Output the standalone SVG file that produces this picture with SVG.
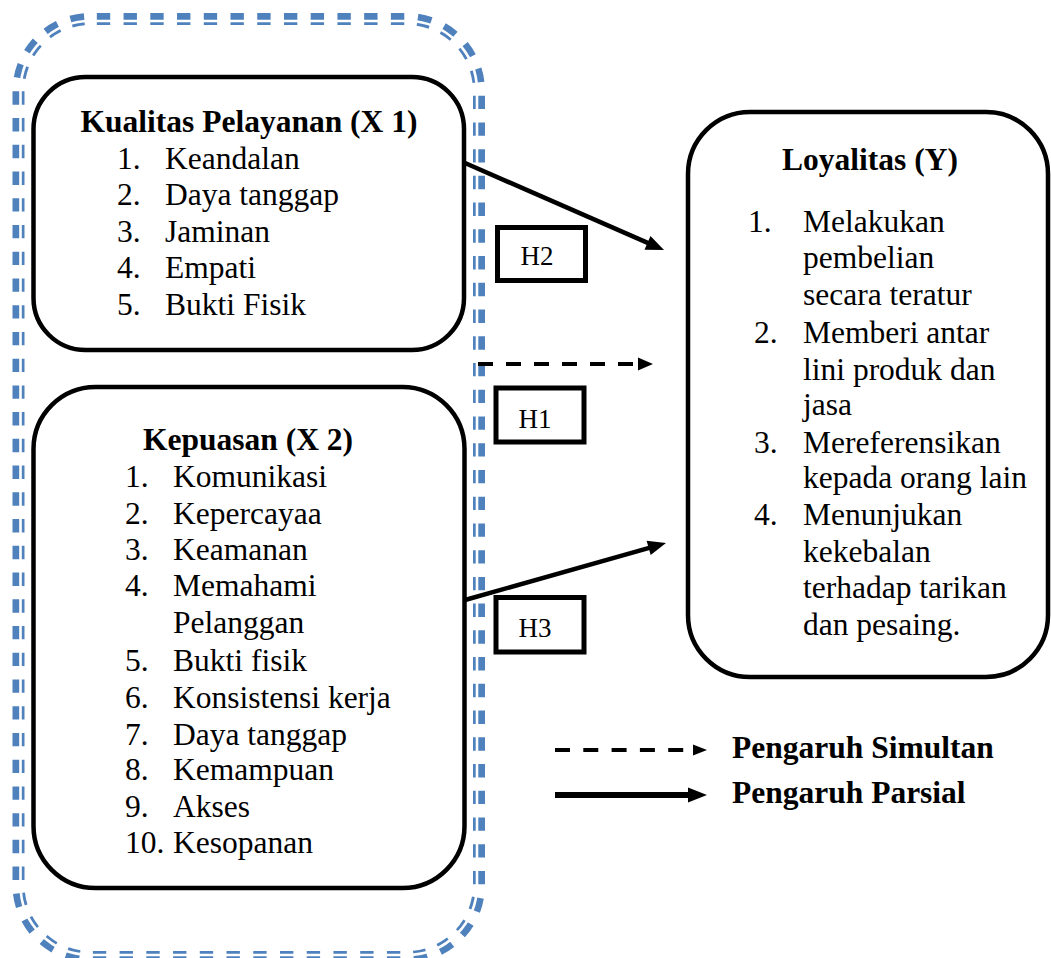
<svg xmlns="http://www.w3.org/2000/svg" width="1051" height="958" viewBox="0 0 1051 958">
<style>
.box{fill:none;stroke:#000;stroke-width:4.5}
.hbox{fill:none;stroke:#000;stroke-width:5}
.t{font-family:"Liberation Serif","Times New Roman",serif;font-size:31.5px;fill:#000}
.b{font-weight:bold}
.h{font-family:"Liberation Serif","Times New Roman",serif;font-size:27px;fill:#000}
.solid{stroke:#000;stroke-width:4.5;fill:none}
.dash{stroke:#000;stroke-width:4;fill:none;stroke-dasharray:15 13}
.head{fill:#000}
</style>
<defs>
<mask id="gap" maskUnits="userSpaceOnUse" x="0" y="0" width="1051" height="958">
<rect x="0" y="0" width="1051" height="958" fill="#fff"/>
<rect x="20.5" y="21" width="456.5" height="934" rx="70" fill="none" stroke="#000" stroke-width="2.6"/>
</mask>
</defs>
<rect width="1051" height="958" fill="#fff"/>
<g id="group-border" mask="url(#gap)">
<rect x="18.5" y="19" width="460.5" height="938" rx="72" fill="none" stroke="#4F81BD" stroke-width="12" stroke-dasharray="13.367 13.367" stroke-dashoffset="20.4"/>
</g>
<g id="connectors">
<line class="solid" x1="465" y1="163" x2="650" y2="243.9"/>
<polygon class="head" points="664,250 644.5,249.7 650.5,235.9"/>
<line class="solid" x1="465" y1="600" x2="651" y2="547.3"/>
<polygon class="head" points="666,543 650.7,555.1 646.6,540.7"/>
<line class="dash" x1="478" y1="364" x2="636" y2="364"/>
<polygon class="head" points="653,364 638,357.5 638,370.5"/>
</g>
<g id="node-x1">
<rect class="box" x="33.5" y="77" width="430.5" height="273" rx="52"/>
<text class="t b" x="249" y="132" text-anchor="middle">Kualitas Pelayanan (X 1)</text>
<text class="t" x="117" y="169">1.</text><text class="t" x="165" y="169">Keandalan</text>
<text class="t" x="117" y="205">2.</text><text class="t" x="165" y="205">Daya tanggap</text>
<text class="t" x="117" y="242">3.</text><text class="t" x="165" y="242">Jaminan</text>
<text class="t" x="117" y="278">4.</text><text class="t" x="165" y="278">Empati</text>
<text class="t" x="117" y="315">5.</text><text class="t" x="165" y="315">Bukti Fisik</text>
</g>
<g id="node-x2">
<rect class="box" x="33.5" y="387" width="431" height="501" rx="62"/>
<text class="t b" x="248" y="450" text-anchor="middle">Kepuasan (X 2)</text>
<text class="t" x="125" y="487">1.</text><text class="t" x="173" y="487">Komunikasi</text>
<text class="t" x="125" y="524">2.</text><text class="t" x="173" y="524">Kepercayaa</text>
<text class="t" x="125" y="560">3.</text><text class="t" x="173" y="560">Keamanan</text>
<text class="t" x="125" y="596">4.</text><text class="t" x="173" y="596">Memahami</text>
<text class="t" x="173" y="633">Pelanggan</text>
<text class="t" x="125" y="671">5.</text><text class="t" x="173" y="671">Bukti fisik</text>
<text class="t" x="125" y="708">6.</text><text class="t" x="173" y="708">Konsistensi kerja</text>
<text class="t" x="125" y="745">7.</text><text class="t" x="173" y="745">Daya tanggap</text>
<text class="t" x="125" y="780">8.</text><text class="t" x="173" y="780">Kemampuan</text>
<text class="t" x="125" y="817">9.</text><text class="t" x="173" y="817">Akses</text>
<text class="t" x="125" y="853">10.</text><text class="t" x="173" y="853">Kesopanan</text>
</g>
<g id="node-y">
<rect class="box" x="688" y="112" width="360" height="565" rx="62"/>
<text class="t b" x="870" y="170" text-anchor="middle">Loyalitas (Y)</text>
<text class="t" x="748" y="232">1.</text><text class="t" x="803" y="232">Melakukan</text>
<text class="t" x="803" y="268">pembelian</text>
<text class="t" x="803" y="305">secara teratur</text>
<text class="t" x="754" y="343">2.</text><text class="t" x="803" y="343">Memberi antar</text>
<text class="t" x="803" y="380">lini produk dan</text>
<text class="t" x="803" y="415">jasa</text>
<text class="t" x="754" y="453">3.</text><text class="t" x="803" y="453">Mereferensikan</text>
<text class="t" x="803" y="488">kepada orang lain</text>
<text class="t" x="754" y="525">4.</text><text class="t" x="803" y="525">Menunjukan</text>
<text class="t" x="803" y="562">kekebalan</text>
<text class="t" x="803" y="598">terhadap tarikan</text>
<text class="t" x="803" y="635">dan pesaing.</text>
</g>
<g id="node-h2">
<rect class="hbox" x="497.5" y="227.5" width="88" height="53"/>
<text class="h" x="537" y="265" text-anchor="middle">H2</text>
</g>
<g id="node-h1">
<rect class="hbox" x="496" y="388" width="88" height="54"/>
<text class="h" x="535" y="428" text-anchor="middle">H1</text>
</g>
<g id="node-h3">
<rect class="hbox" x="496" y="597.5" width="88" height="54.5"/>
<text class="h" x="535" y="637" text-anchor="middle">H3</text>
</g>
<g id="legend">
<line x1="555" y1="750" x2="694" y2="750" stroke="#000" stroke-width="4" stroke-dasharray="15 13.3"/>
<polygon class="head" points="693,744.5 707,750 693,755.5"/>
<text class="t b" x="732" y="758">Pengaruh Simultan</text>
<line x1="555" y1="795" x2="690" y2="795" stroke="#000" stroke-width="6"/>
<polygon class="head" points="688,787.5 707,795 688,802.5"/>
<text class="t b" x="732" y="803">Pengaruh Parsial</text>
</g>
</svg>
